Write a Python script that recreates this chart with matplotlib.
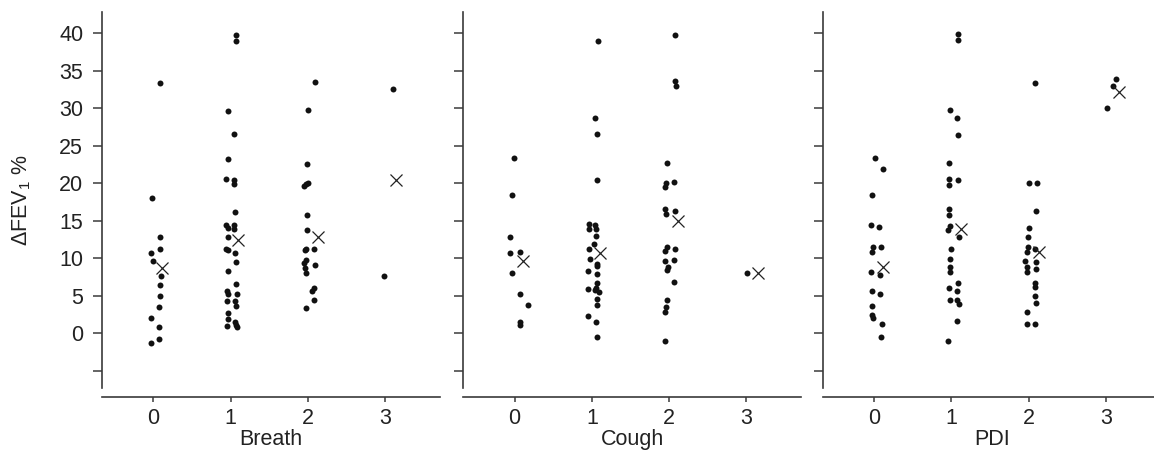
import matplotlib
matplotlib.use('Agg')
import matplotlib.pyplot as plt

plt.rcParams['font.family'] = ['Liberation Sans', 'DejaVu Sans']
plt.rcParams['mathtext.fontset'] = 'custom'
plt.rcParams['mathtext.rm'] = 'Liberation Sans'
plt.rcParams['mathtext.default'] = 'regular'

categories = [0, 1, 2, 3]
panel_names = ['Breath', 'Cough', 'PDI']
y_ticks = [-5, 0, 5, 10, 15, 20, 25, 30, 35, 40]
y_tick_labels = ['', '0', '5', '10', '15', '20', '25', '30', '35', '40']

# dFEV1 % per score group, with the horizontal jitter
breath_values = [
    [33.4, 18.0, 12.8, 11.3, 10.7, 9.6, 7.6, 6.5, 5.0, 3.5, 2.0, 0.8, -0.8, -1.3],
    [39.8, 39.0, 29.6, 26.6, 23.2, 20.6, 20.4, 19.9, 16.2, 14.4, 14.1, 14.4, 13.9,
     12.8, 11.3, 11.1, 10.7, 9.5, 8.3, 6.6, 5.7, 5.2, 5.3, 4.3, 4.3, 3.7, 2.7,
     1.9, 1.0, 1.5, 1.1, 0.9],
    [33.5, 29.8, 22.6, 19.6, 19.9, 20.0, 15.8, 13.8, 11.1, 11.2, 11.2, 9.4, 9.8,
     9.1, 8.7, 8.0, 6.0, 5.6, 4.4, 3.4],
    [32.6, 7.6],
]
breath_jitter = [
    [0.086, -0.013, 0.09, 0.086, -0.034, 0.0, 0.095, 0.086, 0.09, 0.078, -0.03,
     0.07, 0.07, -0.03],
    [0.07, 0.065, -0.04, 0.047, -0.03, -0.056, 0.04, 0.043, 0.052, -0.056, -0.03,
     0.047, 0.047, -0.04, -0.06, -0.03, 0.056, 0.07, -0.035, 0.07, -0.047, -0.03,
     0.078, -0.047, 0.056, 0.07, -0.03, -0.04, -0.047, 0.056, 0.07, 0.08],
    [0.086, 0.004, -0.013, -0.056, -0.02, 0.0, -0.017, -0.017, -0.043, -0.026,
     0.073, -0.056, -0.02, 0.086, -0.034, -0.03, 0.073, 0.056, 0.073, -0.02],
    [0.108, -0.01],
]
breath_means = [8.7, 12.4, 12.9, 20.4]
breath_mean_jitter = [0.108, 0.1, 0.13, 0.14]

cough_values = [
    [23.4, 18.4, 12.8, 10.7, 10.8, 8.0, 5.2, 3.8, 1.5, 1.1],
    [39.0, 28.7, 26.6, 20.4, 14.6, 13.9, 14.4, 13.9, 13.0, 11.9, 11.2, 9.9, 9.3,
     9.0, 8.3, 7.9, 6.7, 6.1, 5.9, 5.8, 5.5, 4.6, 3.8, 2.3, 1.5, -0.5],
    [39.8, 33.6, 33.0, 22.7, 20.0, 19.5, 20.2, 16.6, 15.9, 16.3, 11.5, 11.0, 11.3,
     9.6, 9.8, 8.8, 8.4, 6.8, 4.4, 3.5, 2.9, -1.0],
    [8.0],
]
cough_jitter = [
    [-0.01, -0.04, -0.065, -0.06, 0.065, -0.04, 0.065, 0.17, 0.065, 0.065],
    [0.074, 0.043, 0.06, 0.065, -0.043, -0.035, 0.043, 0.05, 0.056, 0.03, -0.043,
     -0.03, 0.065, 0.065, -0.05, 0.065, 0.065, 0.056, -0.05, 0.035, 0.095, 0.065,
     0.065, -0.047, 0.056, 0.065],
    [0.078, 0.078, 0.087, -0.03, -0.04, -0.05, 0.056, -0.06, -0.04, 0.078, -0.03,
     -0.05, 0.07, -0.06, 0.056, -0.017, -0.026, 0.06, -0.026, -0.04, -0.05, -0.06],
    [0.013],
]
cough_means = [9.6, 10.75, 15.0, 8.1]
cough_mean_jitter = [0.11, 0.108, 0.12, 0.15]

pdi_values = [
    [23.4, 21.9, 18.4, 14.4, 14.2, 11.5, 11.5, 10.9, 8.2, 7.8, 5.6, 5.3, 3.6, 2.4,
     2.1, 1.2, -0.5],
    [39.9, 39.1, 29.8, 28.7, 26.4, 22.7, 20.6, 19.8, 20.4, 16.6, 15.8, 14.3, 13.8,
     12.8, 11.2, 9.9, 8.9, 8.2, 6.7, 6.1, 5.6, 4.5, 4.5, 3.9, 1.6, -1.0],
    [33.4, 20.0, 20.0, 16.3, 14.0, 12.8, 11.5, 10.8, 11.3, 9.7, 8.8, 8.2, 9.5, 8.6,
     6.7, 6.2, 5.0, 4.0, 2.8, 1.2, 1.2],
    [33.9, 33.0, 30.0],
]
pdi_jitter = [
    [0.013, 0.12, -0.026, -0.04, 0.07, -0.017, 0.086, -0.03, -0.043, 0.078, -0.03,
     0.078, -0.03, -0.03, -0.009, 0.1, 0.086],
    [0.08, 0.08, -0.02, 0.078, 0.08, -0.03, -0.035, -0.03, 0.08, -0.03, -0.03,
     -0.017, -0.04, 0.1, -0.01, -0.017, -0.02, -0.02, 0.09, -0.03, 0.078, -0.02,
     0.078, 0.095, 0.078, -0.047],
    [0.08, 0.0, 0.108, 0.1, 0.0, -0.013, -0.009, -0.026, 0.086, -0.047, -0.022,
     -0.017, 0.095, 0.095, 0.086, 0.086, 0.086, 0.095, -0.022, -0.022, 0.086],
    [0.13, 0.095, 0.017],
]
pdi_means = [8.8, 13.9, 10.8, 32.2]
pdi_mean_jitter = [0.12, 0.13, 0.14, 0.17]

panels = [
    (breath_values, breath_jitter, breath_means, breath_mean_jitter),
    (cough_values, cough_jitter, cough_means, cough_mean_jitter),
    (pdi_values, pdi_jitter, pdi_means, pdi_mean_jitter),
]

W, H = 1154, 455
fig = plt.figure(figsize=(W / 100, H / 100), dpi=100)
lefts = [102, 463.3, 822.7]
axis_col = '#3a3a3a'

for i, (vals, jit, means, mjit) in enumerate(panels):
    ax = fig.add_axes([lefts[i] / W, 67 / H, 338 / W, 376 / H])
    for c, ys, js in zip(categories, vals, jit):
        xs = [c + j for j in js]
        ax.plot(xs, ys, 'o', ms=4.3, color='#111111', mec='none', clip_on=False)
    mx = [c + j for c, j in zip(categories, mjit)]
    ax.plot(mx, means, 'x', ms=8.8, mew=0.9, color='#222222', ls='none')

    ax.set_xlim(-0.665, 3.71)
    ax.set_ylim(-7.29, 42.84)
    for s in ['top', 'right']:
        ax.spines[s].set_visible(False)
    ax.spines['bottom'].set_position(('outward', 6.5))
    for s in ['left', 'bottom']:
        ax.spines[s].set_color(axis_col)
        ax.spines[s].set_linewidth(1.2)

    ax.set_xticks(categories)
    ax.set_yticks(y_ticks)
    if i == 0:
        ax.set_yticklabels(y_tick_labels)
        ax.set_ylabel('ΔFEV$_1$ %', fontsize=15.5, color='#222222')
        ax.yaxis.set_label_coords(-0.205, 0.5)
    else:
        ax.set_yticklabels([])
    ax.tick_params(axis='y', length=6.5, width=1.1, color=axis_col, pad=7,
                   labelsize=15.5, labelcolor='#222222')
    ax.tick_params(axis='x', length=3.5, width=1.1, color=axis_col, pad=4.5,
                   labelsize=15.5, labelcolor='#222222')
    ax.set_xlabel(panel_names[i], fontsize=15.5, color='#222222', labelpad=0)
    ax.patch.set_alpha(0)

fig.savefig('out.png', dpi=100)
